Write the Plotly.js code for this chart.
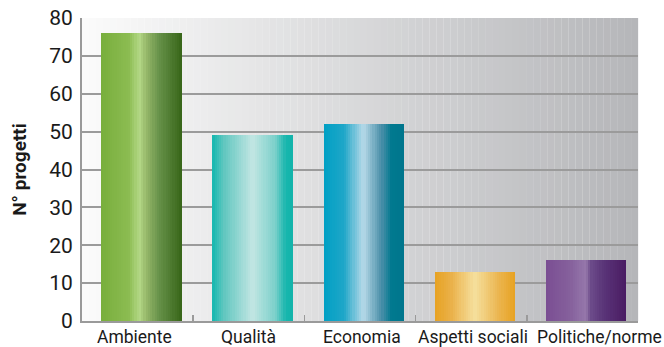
<!DOCTYPE html>
<html><head><meta charset="utf-8">
<script src="https://cdn.plot.ly/plotly-3.0.1.min.js"></script>
<style>html,body{margin:0;padding:0;background:#fff}#chart{width:664px;height:347px}</style>
</head><body><div id="chart"></div>
<script>
const categories = ["Ambiente", "Qualità", "Economia", "Aspetti sociali", "Politiche/norme"];
const values = [76, 49, 52, 13, 16];
const yTickVals = [0, 10, 20, 30, 40, 50, 60, 70, 80];
const yTitle = "N° progetti";

// cylindrical gradient stops per bar (position, colour)
const gradients = [
  [[0, "#78ae3c"], [0.35, "#8cbc52"], [0.48, "#b4d987"], [0.56, "#97b86a"], [0.72, "#67924a"], [1, "#386619"]],
  [[0, "#14b8af"], [0.15, "#62c7c0"], [0.5, "#c2e6e3"], [0.78, "#7dd1cb"], [0.92, "#17b6ad"], [1, "#12b4ab"]],
  [[0, "#00a0c4"], [0.25, "#1ea6c8"], [0.5, "#b6d9e8"], [0.72, "#4b8fa9"], [0.85, "#00798f"], [1, "#00768d"]],
  [[0, "#e7a222"], [0.2, "#eab048"], [0.5, "#f6e09e"], [0.8, "#ebb54f"], [1, "#e7a222"]],
  [[0, "#7a4e93"], [0.3, "#85609c"], [0.5, "#9678ab"], [0.56, "#6c4b8a"], [0.72, "#5a3478"], [1, "#4a1c63"]]
];
// label horizontal nudges (px) as in the original layout
const labelShift = [-3, 0, 2, 2, 17];

function hex2rgb(h){return [parseInt(h.substr(1,2),16),parseInt(h.substr(3,2),16),parseInt(h.substr(5,2),16)];}
function interp(stops,t){
  for(let i=0;i<stops.length-1;i++){
    const [p0,c0]=stops[i],[p1,c1]=stops[i+1];
    if(t>=p0&&t<=p1){
      const f=(t-p0)/(p1-p0||1),a=hex2rgb(c0),b=hex2rgb(c1);
      return "rgb("+a.map((v,k)=>Math.round(v+(b[k]-v)*f)).join(",")+")";
    }
  }
  return stops[stops.length-1][1];
}

const barWidth = 0.72, N = 36, sw = barWidth / N, barShift = 0.032;
const traces = [];
for (let i = 0; i < N; i++) {
  const t = (i + 0.5) / N;
  traces.push({
    type: "bar", x: categories, y: values,
    width: sw * 1.15, offset: -barWidth / 2 + barShift + i * sw,
    marker: {color: gradients.map(g => interp(g, t)), line: {width: 0}},
    hoverinfo: "skip", showlegend: false
  });
}

// background gradient (white -> gray, left to right)
const shapes = [];
const M = 80;
for (let i = 0; i < M; i++) {
  const f = i / (M - 1);
  const r = Math.round(251 - 70 * f), g = Math.round(251 - 69 * f), b = Math.round(251 - 66 * f);
  shapes.push({type: "rect", xref: "paper", yref: "paper", x0: i / M, x1: (i + 1.02) / M, y0: 0, y1: 1,
    fillcolor: `rgb(${r},${g},${b})`, line: {width: 0}, layer: "below"});
}

const annotations = categories.map((c, i) => ({
  x: c, xref: "x", y: 0, yref: "paper", yanchor: "top", xanchor: "center",
  text: c, showarrow: false, xshift: labelShift[i], yshift: -4,
  font: {size: 17.5, color: "#1a1a1a"}
}));

const layout = {
  width: 664, height: 347,
  margin: {l: 82, r: 26, t: 18, b: 26},
  paper_bgcolor: "#ffffff", plot_bgcolor: "#ffffff",
  barmode: "overlay", bargap: 0,
  shapes: shapes, annotations: annotations,
  font: {family: "Roboto, 'Liberation Sans', sans-serif", color: "#1a1a1a"},
  xaxis: {
    type: "category", range: [-0.5, 4.5], autorange: false, tickangle: 0, tickson: "boundaries",
    ticks: "inside", ticklen: 6, tickwidth: 1.5, tickcolor: "#9a9a9a",
    showline: true, linecolor: "#9a9a9a", linewidth: 2,
    showgrid: false, showticklabels: false, fixedrange: true
  },
  yaxis: {
    range: [0, 80], tickvals: yTickVals, ticks: "",
    showgrid: true, gridcolor: "#9b9b9b", gridwidth: 2,
    showline: true, linecolor: "#9a9a9a", linewidth: 2,
    zeroline: false, tickfont: {size: 21, color: "#1a1a1a"}, ticklabelstandoff: 3,
    title: {text: yTitle, font: {size: 19, color: "#1a1a1a", weight: "bold"}, standoff: 18},
    fixedrange: true
  }
};

Plotly.newPlot("chart", traces, layout, {displayModeBar: false, staticPlot: true});
</script></body></html>
